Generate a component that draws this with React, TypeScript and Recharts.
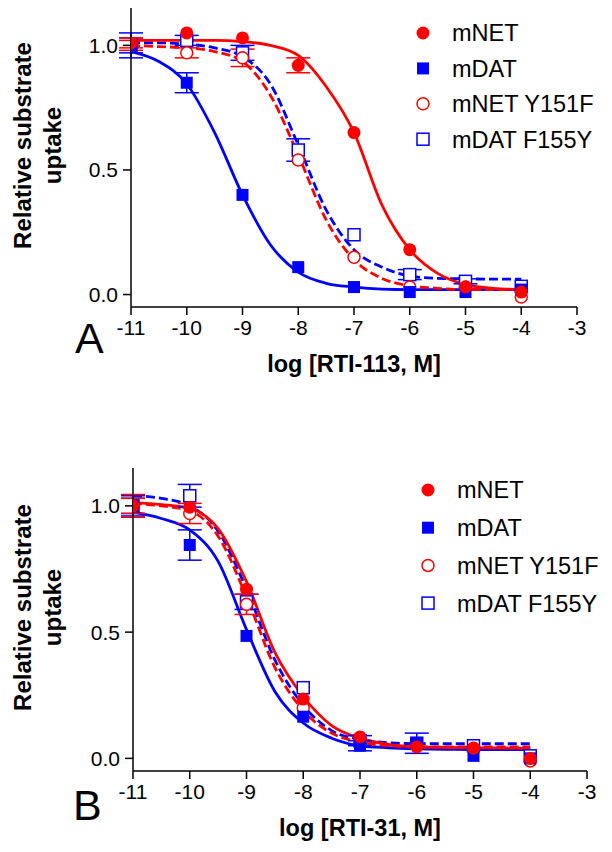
import React from 'react'
import { ComposedChart, Line, Scatter, XAxis, YAxis, ErrorBar, Label } from 'recharts'

const RED = '#ff0000'
const BLUE = '#0000ff'
const FONT = '"Liberation Sans", Arial, Helvetica, sans-serif'

const doses = [-11, -10, -9, -8, -7, -6, -5, -4]
const fitX = [-11, -10.5, -10, -9.5, -9, -8.5, -8, -7.5, -7, -6.5, -6, -5.5, -5, -4.5, -4]
const xTicks = [-11, -10, -9, -8, -7, -6, -5, -4, -3]
const yTicks = [0, 0.5, 1]
const seriesNames = ['mNET', 'mDAT', 'mNET Y151F', 'mDAT F155Y']

// panel A - RTI-113, measured points (mean) and SEM
const aNet = [1.01, 1.05, 1.03, 0.92, 0.65, 0.18, 0.03, 0.01]
const aNetErr = [0.02, 0, 0, 0.03, 0, 0, 0, 0]
const aDat = [1.0, 0.85, 0.4, 0.11, 0.03, 0.01, 0.01, 0.02]
const aDatErr = [0.05, 0.04, 0, 0, 0, 0, 0, 0]
const aNetY = [1.0, 0.97, 0.95, 0.54, 0.15, 0.03, 0.03, -0.01]
const aNetYErr = [0.02, 0.02, 0.035, 0, 0, 0, 0, 0]
const aDatF = [1.0, 1.02, 0.97, 0.58, 0.24, 0.08, 0.053, 0.033]
const aDatFErr = [0.03, 0.02, 0.03, 0.045, 0, 0.02, 0.01, 0]

const aNetFit = [1.02, 1.02, 1.02, 1.02, 1.015, 1.0, 0.96, 0.835, 0.65, 0.36, 0.18, 0.085, 0.04, 0.025, 0.02]
const aDatFit = [0.975, 0.935, 0.845, 0.65, 0.4, 0.2, 0.09, 0.045, 0.03, 0.022, 0.02, 0.02, 0.02, 0.02, 0.02]
const aNetYFit = [1.0, 0.995, 0.99, 0.975, 0.935, 0.8, 0.56, 0.3, 0.14, 0.065, 0.035, 0.025, 0.02, 0.02, 0.02]
const aDatFFit = [1.01, 1.01, 1.005, 0.99, 0.955, 0.845, 0.6, 0.34, 0.18, 0.11, 0.075, 0.065, 0.063, 0.062, 0.062]

// panel B - RTI-31
const bNet = [1.0, 0.995, 0.67, 0.235, 0.085, 0.045, 0.04, 0.0]
const bNetErr = [0.045, 0, 0, 0, 0, 0, 0, 0]
const bDat = [1.0, 0.845, 0.485, 0.165, 0.05, 0.06, 0.01, 0.0]
const bDatErr = [0.04, 0.06, 0, 0, 0.02, 0.04, 0, 0]
const bNetY = [1.0, 0.97, 0.61, 0.2, 0.07, 0.05, 0.04, -0.01]
const bNetYErr = [0.03, 0.04, 0.04, 0, 0, 0, 0, 0]
const bDatF = [1.0, 1.04, 0.62, 0.28, 0.07, 0.06, 0.05, 0.01]
const bDatFErr = [0.03, 0.045, 0.03, 0, 0.02, 0, 0, 0]

const bNetFit = [1.013, 1.005, 0.99, 0.91, 0.7, 0.42, 0.245, 0.13, 0.08, 0.055, 0.045, 0.043, 0.042, 0.041, 0.04]
const bDatFit = [0.975, 0.95, 0.905, 0.78, 0.51, 0.265, 0.14, 0.08, 0.05, 0.042, 0.038, 0.036, 0.035, 0.035, 0.035]
const bNetYFit = [1.01, 1.0, 0.98, 0.88, 0.64, 0.36, 0.19, 0.1, 0.065, 0.05, 0.045, 0.045, 0.045, 0.045, 0.045]
const bDatFFit = [1.04, 1.03, 1.0, 0.9, 0.67, 0.39, 0.21, 0.11, 0.075, 0.062, 0.058, 0.058, 0.058, 0.058, 0.058]

const pts = (ys: number[], errs: number[]) => doses.map((x, i) => ({ x, y: ys[i], err: errs[i] }))
const fit = (ys: number[]) => fitX.map((x, i) => ({ x, y: ys[i] }))

function Marker({ kind, cx, cy }: { kind: number; cx: number; cy: number }) {
  if (kind === 0) return <circle cx={cx} cy={cy} r={6.5} fill={RED} />
  if (kind === 1) return <rect x={cx - 6} y={cy - 6} width={12} height={12} fill={BLUE} />
  if (kind === 2) return <circle cx={cx} cy={cy} r={6} fill="#fff" stroke={RED} strokeWidth={1.5} />
  return <rect x={cx - 6} y={cy - 6} width={12} height={12} fill="#fff" stroke={BLUE} strokeWidth={1.5} />
}

const colors = [RED, BLUE, RED, BLUE]

// legend drawn as a plain overlay so it does not eat plot space
function KeyBox({ top, left, rowGap }: { top: number; left: number; rowGap: number }) {
  return (
    <svg width={200} height={rowGap * 3 + 24} style={{ position: 'absolute', top, left }}>
      {seriesNames.map((n, i) => (
        <g key={n}>
          <Marker kind={i} cx={9} cy={12 + i * rowGap} />
          <text x={38} y={12 + i * rowGap} dy="0.36em" fontSize={23.5} fontFamily={FONT} fill="#000">
            {n}
          </text>
        </g>
      ))}
    </svg>
  )
}

function Panel(props: any) {
  const { width, height, margin, yWidth, sets, fits, title, letter, letterX, letterDy } = props
  const axisStyle = { stroke: '#000', strokeWidth: 1.5 }

  return (
    <ComposedChart width={width} height={height} margin={margin}>
      <XAxis
        type="number"
        dataKey="x"
        domain={[-11, -3]}
        ticks={xTicks}
        allowDataOverflow
        axisLine={axisStyle}
        tickLine={axisStyle}
        tickSize={8}
        tickMargin={5}
        height={60}
        tick={{ fill: '#000', fontSize: 21, fontFamily: FONT }}
      >
        <Label
          content={(p: any) => {
            const vb = p.viewBox
            return (
              <g>
                <text
                  x={vb.x + vb.width / 2}
                  y={vb.y + 65}
                  textAnchor="middle"
                  fontSize={23.5}
                  fontWeight="bold"
                  fontFamily={FONT}
                  fill="#000"
                >
                  {title}
                </text>
                <text x={letterX} y={vb.y + letterDy} fontSize={43} fontFamily={FONT} fill="#000">
                  {letter}
                </text>
              </g>
            )
          }}
        />
      </XAxis>
      <YAxis
        type="number"
        domain={[-0.05, 1.15]}
        ticks={yTicks}
        allowDataOverflow
        width={yWidth}
        axisLine={axisStyle}
        tickLine={axisStyle}
        tickSize={8}
        tickMargin={5}
        tickFormatter={(v: number) => v.toFixed(1)}
        tick={{ fill: '#000', fontSize: 21, fontFamily: FONT }}
      >
        <Label
          content={(p: any) => {
            const vb = p.viewBox
            const cy = vb.y + vb.height / 2 - 12
            return (
              <g fontSize={24} fontWeight="bold" fontFamily={FONT} fill="#000">
                <text transform={`translate(22,${cy}) rotate(-90)`} textAnchor="middle" dominantBaseline="central">
                  Relative substrate
                </text>
                <text transform={`translate(52,${cy}) rotate(-90)`} textAnchor="middle" dominantBaseline="central">
                  uptake
                </text>
              </g>
            )
          }}
        />
      </YAxis>

      <Line data={fits[1]} dataKey="y" type="monotone" stroke={BLUE} strokeWidth={2.8} dot={false} isAnimationActive={false} />
      <Line data={fits[3]} dataKey="y" type="monotone" stroke={BLUE} strokeWidth={2.8} strokeDasharray="9 4" dot={false} isAnimationActive={false} />
      <Line data={fits[2]} dataKey="y" type="monotone" stroke={RED} strokeWidth={2.8} strokeDasharray="9 4" dot={false} isAnimationActive={false} />
      <Line data={fits[0]} dataKey="y" type="monotone" stroke={RED} strokeWidth={2.8} dot={false} isAnimationActive={false} />

      {[3, 2, 1, 0].map((k) => (
        <Scatter
          key={k}
          name={seriesNames[k]}
          data={sets[k]}
          dataKey="y"
          isAnimationActive={false}
          shape={(sp: any) => <Marker kind={k} cx={sp.cx} cy={sp.cy} />}
        >
          <ErrorBar dataKey="err" direction="y" width={12} stroke={colors[k]} strokeWidth={1.5} />
        </Scatter>
      ))}
    </ComposedChart>
  )
}

export default function App() {
  return (
    <div style={{ position: 'absolute', left: 0, top: 0, width: 612, height: 852, background: '#fff' }}>
      <div style={{ position: 'absolute', left: 0, top: 0 }}>
        <Panel
          width={612}
          height={426}
          margin={{ top: 8, right: 35, bottom: 59, left: 0 }}
          yWidth={131}
          sets={[pts(aNet, aNetErr), pts(aDat, aDatErr), pts(aNetY, aNetYErr), pts(aDatF, aDatFErr)]}
          fits={[fit(aNetFit), fit(aDatFit), fit(aNetYFit), fit(aDatFFit)]}
          title="log [RTI-113, M]"
          letter="A"
          letterX={75}
          letterDy={46}
        />
        <KeyBox top={21} left={414} rowGap={35.4} />
      </div>
      <div style={{ position: 'absolute', left: 0, top: 426 }}>
        <Panel
          width={612}
          height={426}
          margin={{ top: 42, right: 25, bottom: 21, left: 0 }}
          yWidth={133}
          sets={[pts(bNet, bNetErr), pts(bDat, bDatErr), pts(bNetY, bNetYErr), pts(bDatF, bDatFErr)]}
          fits={[fit(bNetFit), fit(bDatFit), fit(bNetYFit), fit(bDatFFit)]}
          title="log [RTI-31, M]"
          letter="B"
          letterX={73}
          letterDy={49}
        />
        <KeyBox top={52} left={419} rowGap={37.7} />
      </div>
    </div>
  )
}
